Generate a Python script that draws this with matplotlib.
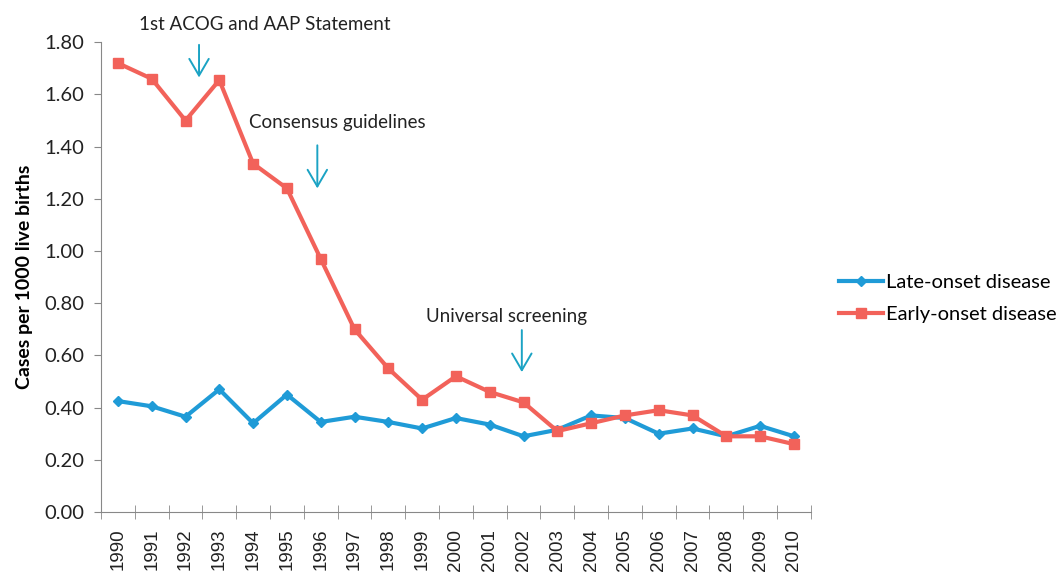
import numpy as np
from matplotlib import pyplot as plt

plt.rc("font", family="Lato", size=12)

years = list(range(1990, 2011))
early_onset = [1.72, 1.66, 1.50, 1.655, 1.335, 1.24, 0.97, 0.70, 0.55, 0.43,
               0.52, 0.46, 0.42, 0.31, 0.34, 0.37, 0.39, 0.37, 0.29, 0.29, 0.26]
late_onset = [0.425, 0.405, 0.365, 0.47, 0.34, 0.45, 0.345, 0.365, 0.345, 0.32,
              0.36, 0.335, 0.29, 0.315, 0.37, 0.36, 0.30, 0.32, 0.29, 0.33, 0.29]

# annotations: (text, arrow x, text y, arrow top, arrow bottom, text x) in data units
events = [
    ("1st ACOG and AAP Statement", 2.4, 1.835, 1.79, 1.665, 4.35),
    ("Consensus guidelines", 5.9, 1.46, 1.405, 1.24, 6.5),
    ("Universal screening", 11.95, 0.715, 0.697, 0.536, 11.5),
]

blue = "#1f9bd7"
red = "#f2625a"
teal = "#1ba3c4"

fig = plt.figure(figsize=(10.61, 5.85), dpi=100)
ax = fig.add_axes([0.0952, 0.1248, 0.669, 0.803])

x = np.arange(len(years))
ax.plot(x, late_onset, color=blue, lw=3, marker="D", ms=5,
        label="Late-onset disease")
ax.plot(x, early_onset, color=red, lw=3, marker="s", ms=7.5,
        label="Early-onset disease")

for text, ax_x, ty, y0, y1, tx in events:
    ax.annotate("", xy=(ax_x, y1), xytext=(ax_x, y0),
                arrowprops=dict(arrowstyle="->,head_length=0.6,head_width=0.35",
                                color=teal, lw=1.4, mutation_scale=20,
                                shrinkA=0, shrinkB=0))
    ax.text(tx, ty, text, ha="center", va="bottom", fontsize=13.5,
            color="#222222")

ax.set_xlim(-0.5, len(years) - 0.5)
ax.set_ylim(0, 1.8)
ax.set_yticks(np.arange(0, 1.81, 0.2))
ax.set_yticklabels(["%.2f" % v for v in np.arange(0, 1.81, 0.2)],
                   fontsize=14.5, color="#222222")
ax.set_xticks(x)
ax.set_xticklabels([str(y) for y in years], rotation=90,
                   family="Liberation Sans", fontsize=13.5, color="#222222")
ax.set_xticks(np.arange(-0.5, len(years), 1), minor=True)
ax.tick_params(axis="x", which="major", length=0, pad=12)
ax.tick_params(axis="x", which="minor", length=10, color="#888888",
               direction="inout")
ax.tick_params(axis="y", length=5, color="#888888", direction="out", pad=7)

for s in ["top", "right"]:
    ax.spines[s].set_visible(False)
for s in ["left", "bottom"]:
    ax.spines[s].set_color("#888888")

ax.set_ylabel("Cases per 1000 live births", fontweight="bold", fontsize=14,
              labelpad=8)

ax.legend(loc="center left", bbox_to_anchor=(1.025, 0.455), frameon=False,
          fontsize=14.5, handlelength=2.2, labelspacing=0.75,
          handletextpad=0.15, borderpad=0)

fig.savefig("out.png", dpi=100)
